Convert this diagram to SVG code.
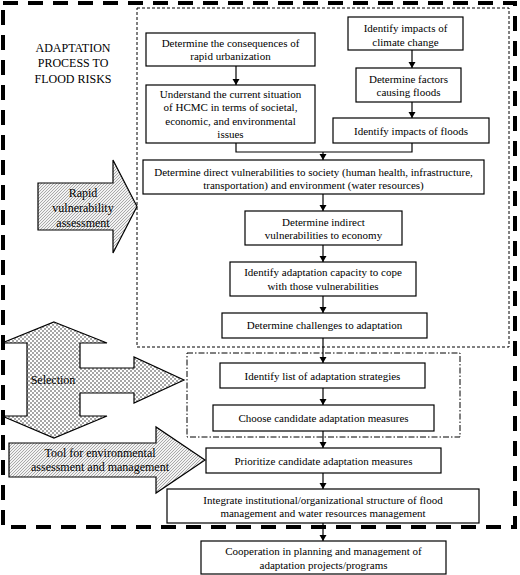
<svg xmlns="http://www.w3.org/2000/svg" width="520" height="575" viewBox="0 0 520 575">
<style>
.box{fill:#fff;stroke:#000;stroke-width:1.2}
.t{font-family:"Liberation Serif","Times New Roman",serif;font-size:11px;text-anchor:middle;fill:#000}
.lt{font-family:"Liberation Serif","Times New Roman",serif;font-size:12px;text-anchor:middle;fill:#000}
.con{fill:none;stroke:#000;stroke-width:1.2}
.big{stroke:#000;stroke-width:1.2}
</style>
<defs>
<marker id="ah" markerUnits="userSpaceOnUse" markerWidth="7" markerHeight="8" refX="6" refY="3.5" orient="auto">
<path d="M0,0 L6,3.5 L0,7 Z" fill="#000"/>
</marker>
<pattern id="hatch" patternUnits="userSpaceOnUse" width="3" height="3">
<rect width="3" height="3" fill="#f2f2f2"/>
<path d="M-1,1 L1,-1 M0,3 L3,0 M2,4 L4,2" stroke="#777" stroke-width="0.6"/>
</pattern>
<pattern id="dots" patternUnits="userSpaceOnUse" width="4" height="4">
<rect width="4" height="4" fill="#fff"/>
<circle cx="1" cy="1" r="0.75" fill="#222"/>
<circle cx="3" cy="3" r="0.75" fill="#222"/>
</pattern>
</defs>

<g id="frames">
<rect x="3" y="3" width="512" height="524" fill="none" stroke="#000" stroke-width="4" stroke-dasharray="15 10"/>
<rect x="137" y="8" width="372" height="339" fill="none" stroke="#000" stroke-width="1" stroke-dasharray="3 2"/>
<rect x="187" y="353" width="273" height="84" fill="none" stroke="#000" stroke-width="1" stroke-dasharray="6 2 1.5 2"/>
</g>

<g id="title">
<text class="lt" x="73" y="52">ADAPTATION</text>
<text class="lt" x="73" y="67">PROCESS TO</text>
<text class="lt" x="73" y="83">FLOOD RISKS</text>
</g>

<g id="arrow-rapid">
<path class="big" fill="url(#hatch)" d="M38,183 L113,183 L113,160 L137,206.5 L113,253 L113,230 L38,230 Z"/>
<text class="lt" x="83" y="197">Rapid</text>
<text class="lt" x="83" y="212">vulnerability</text>
<text class="lt" x="83" y="227">assessment</text>
</g>

<g id="arrow-selection">
<path class="big" fill="url(#dots)" d="M54,322 L107,343 L80,343 L80,368 L134,368 L134,357 L184,380 L134,403 L134,393 L80,393 L80,416 L107,416 L54,438 L2,416 L27,416 L27,343 L2,343 Z"/>
<text class="lt" x="53" y="384">Selection</text>
</g>

<g id="arrow-tool">
<path class="big" fill="url(#hatch)" d="M9,443 L156,443 L156,427 L205,460 L156,493 L156,477 L9,477 Z"/>
<text class="lt" x="100" y="457">Tool for environmental</text>
<text class="lt" x="100" y="471">assessment and management</text>
</g>

<g id="n1">
<rect class="box" x="146" y="33" width="169" height="33"/>
<text class="t" x="230.5" y="47">Determine the consequences of</text>
<text class="t" x="230.5" y="60">rapid urbanization</text>
</g>
<g id="n2">
<rect class="box" x="146" y="85" width="169" height="58"/>
<text class="t" x="230.5" y="98">Understand the current situation</text>
<text class="t" x="230.5" y="111">of HCMC in terms of societal,</text>
<text class="t" x="230.5" y="125">economic, and environmental</text>
<text class="t" x="230.5" y="138">issues</text>
</g>
<g id="n3">
<rect class="box" x="348" y="17" width="115" height="33"/>
<text class="t" x="405.5" y="32">Identify impacts of</text>
<text class="t" x="405.5" y="46">climate change</text>
</g>
<g id="n4">
<rect class="box" x="356" y="68" width="105" height="34"/>
<text class="t" x="408.5" y="83">Determine factors</text>
<text class="t" x="408.5" y="96">causing floods</text>
</g>
<g id="n5">
<rect class="box" x="333" y="118" width="156" height="25"/>
<text class="t" x="411" y="135">Identify impacts of floods</text>
</g>
<g id="n6">
<rect class="box" x="143" y="160" width="341" height="34"/>
<text class="t" x="313.5" y="176">Determine direct vulnerabilities to society (human health, infrastructure,</text>
<text class="t" x="313.5" y="189">transportation) and environment (water resources)</text>
</g>
<g id="n7">
<rect class="box" x="245" y="211" width="157" height="34"/>
<text class="t" x="323.5" y="226">Determine indirect</text>
<text class="t" x="323.5" y="239">vulnerabilities to economy</text>
</g>
<g id="n8">
<rect class="box" x="230" y="262" width="186" height="34"/>
<text class="t" x="323" y="276">Identify adaptation capacity to cope</text>
<text class="t" x="323" y="290">with those vulnerabilities</text>
</g>
<g id="n9">
<rect class="box" x="222" y="313" width="205" height="25"/>
<text class="t" x="324.5" y="329">Determine challenges to adaptation</text>
</g>
<g id="n10">
<rect class="box" x="220" y="363" width="205" height="25"/>
<text class="t" x="322.5" y="380">Identify list of adaptation strategies</text>
</g>
<g id="n11">
<rect class="box" x="213" y="405" width="221" height="26"/>
<text class="t" x="323.5" y="422">Choose candidate adaptation measures</text>
</g>
<g id="n12">
<rect class="box" x="206" y="448" width="235" height="25"/>
<text class="t" x="323.5" y="465">Prioritize candidate adaptation measures</text>
</g>
<g id="n13">
<rect class="box" x="167" y="489" width="312" height="34"/>
<text class="t" x="323" y="504">Integrate institutional/organizational structure of flood</text>
<text class="t" x="323" y="517">management and water resources management</text>
</g>
<g id="n14">
<rect class="box" x="201" y="541" width="245" height="33"/>
<text class="t" x="323.5" y="555">Cooperation in planning and management of</text>
<text class="t" x="323.5" y="569">adaptation projects/programs</text>
</g>

<g id="connectors">
<line class="con" x1="236" y1="66" x2="236" y2="85" marker-end="url(#ah)"/>
<line class="con" x1="412" y1="50" x2="412" y2="68" marker-end="url(#ah)"/>
<line class="con" x1="412" y1="102" x2="412" y2="118" marker-end="url(#ah)"/>
<polyline class="con" points="236,143 236,152 412,152 412,143"/>
<line class="con" x1="323" y1="152" x2="323" y2="160" marker-end="url(#ah)"/>
<line class="con" x1="323" y1="194" x2="323" y2="211" marker-end="url(#ah)"/>
<line class="con" x1="323" y1="245" x2="323" y2="262" marker-end="url(#ah)"/>
<line class="con" x1="323" y1="296" x2="323" y2="313" marker-end="url(#ah)"/>
<line class="con" x1="323" y1="338" x2="323" y2="363" marker-end="url(#ah)"/>
<line class="con" x1="323" y1="388" x2="323" y2="405" marker-end="url(#ah)"/>
<line class="con" x1="323" y1="431" x2="323" y2="448" marker-end="url(#ah)"/>
<line class="con" x1="323" y1="473" x2="323" y2="489" marker-end="url(#ah)"/>
<line class="con" x1="323" y1="523" x2="323" y2="541" marker-end="url(#ah)"/>
</g>
</svg>
